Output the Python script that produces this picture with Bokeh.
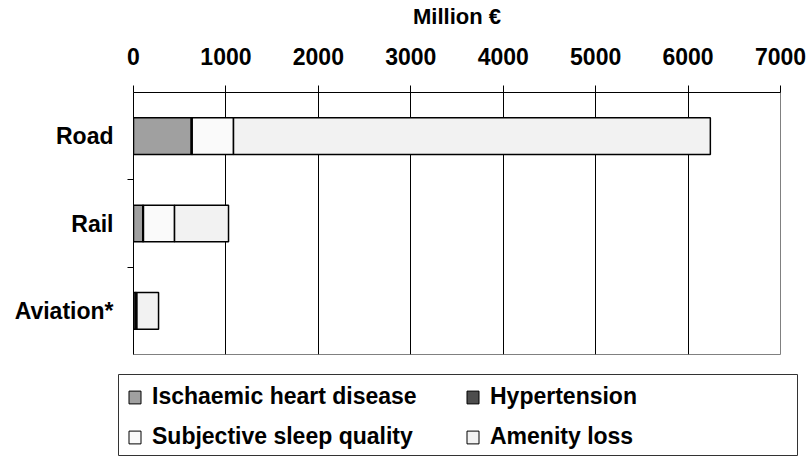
from bokeh.plotting import figure
from bokeh.models import (FactorRange, Range1d, CategoricalAxis, LinearAxis, FixedTicker,
                          Legend, LegendItem, ColumnDataSource, Spacer)
from bokeh.layouts import column, row
from bokeh.embed import file_html
from bokeh.resources import INLINE

categories = ["Aviation*", "Rail", "Road"]
series = ["Ischaemic heart disease", "Hypertension", "Subjective sleep quality", "Amenity loss"]
ischaemic = [20, 100, 625]
hypertension = [5, 8, 10]
sleep = [12, 336, 447]
amenity = [234, 584, 5159]
x_ticks = [0, 1000, 2000, 3000, 4000, 5000, 6000, 7000]
colors = ["#a0a0a0", "#4d4d4d", "#fafafa", "#f2f2f2"]

FONT = "Liberation Sans"
FS = "23px"

src = ColumnDataSource(dict(cat=categories, isch=ischaemic, hyp=hypertension, sleep=sleep, amen=amenity))
keys = ["isch", "hyp", "sleep", "amen"]

p = figure(width=808, height=374, y_range=FactorRange(factors=categories, range_padding=0),
           x_range=Range1d(0, 7000), x_axis_location=None, y_axis_location=None,
           output_backend="svg", toolbar_location=None,
           min_border_left=133, min_border_top=92, min_border_bottom=20, min_border_right=28)
p.outline_line_color = "#808080"
p.outline_line_width = 1

p.hbar_stack(keys, y="cat", height=0.42, source=src,
             fill_color=colors, line_color="black", line_width=1.5)

# top axis
xa = LinearAxis(ticker=FixedTicker(ticks=x_ticks), axis_label="Million €")
xa.axis_line_color = "black"
xa.major_tick_out = 7
xa.major_tick_in = 0
xa.minor_tick_line_color = None
xa.major_label_text_font = FONT
xa.major_label_text_font_style = "bold"
xa.major_label_text_font_size = FS
xa.major_label_text_color = "black"
xa.major_label_standoff = 21
xa.axis_label_text_font = FONT
xa.axis_label_text_font_style = "bold"
xa.axis_label_text_font_size = "22px"
xa.axis_label_text_color = "black"
xa.axis_label_standoff = 16
p.add_layout(xa, "above")

# left boundary ticks: a categorical range whose factor centres fall on the category boundaries
bounds = ["b0", "b1", "b2", "b3"]
p.extra_y_ranges = {"bnd": FactorRange(factors=bounds, range_padding=-0.5, range_padding_units="absolute")}
ta = CategoricalAxis(y_range_name="bnd")
ta.major_tick_out = 6
ta.major_tick_in = 0
ta.major_label_text_font_size = "0px"
ta.major_label_text_alpha = 0
ta.major_label_standoff = 0
ta.axis_line_color = "black"
p.add_layout(ta, "left")

ya = CategoricalAxis()
ya.axis_line_color = None
ya.major_tick_line_color = None
ya.major_tick_out = 0
ya.major_label_text_font = FONT
ya.major_label_text_font_style = "bold"
ya.major_label_text_font_size = FS
ya.major_label_text_color = "black"
ya.major_label_standoff = 14
p.add_layout(ya, "left")

p.xgrid.ticker = FixedTicker(ticks=x_ticks[1:-1])
p.xgrid.grid_line_color = "black"
p.xgrid.grid_line_width = 1
p.ygrid.grid_line_color = None

# legend panel (its own small figure holding hidden copies of the series for the key glyphs)
leg = figure(width=680, height=82, x_range=Range1d(0, 7000),
             y_range=FactorRange(factors=categories),
             output_backend="svg", toolbar_location=None,
             min_border=0, min_border_left=0, min_border_right=0, min_border_top=0, min_border_bottom=0)
leg.axis.visible = False
leg.grid.visible = False
leg.outline_line_color = "#333333"
leg.outline_line_width = 1
lr = leg.hbar_stack(keys, y="cat", height=0.42, source=src,
                    fill_color=colors, line_color="black", line_width=1)
for r in lr:
    r.visible = False
order = [0, 2, 1, 3]
items = [LegendItem(label=series[i], renderers=[lr[i]]) for i in order]
legend = Legend(items=items, ncols=2, location="top_left", margin=0, padding=9, spacing=13,
                glyph_width=15, glyph_height=16, label_standoff=10, label_width=300, label_height=26,
                label_text_font=FONT, label_text_font_style="bold", label_text_font_size=FS,
                label_text_color="black", border_line_alpha=0, background_fill_alpha=0,
                inactive_fill_alpha=0)
leg.add_layout(legend)

layout = column(p, row(Spacer(width=118), leg, spacing=0), spacing=0)

open("out.html", "w").write(file_html(layout, INLINE))
